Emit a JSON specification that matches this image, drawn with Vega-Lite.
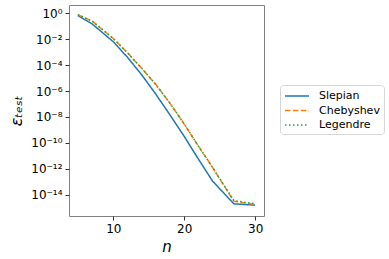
{
  "$schema": "https://vega.github.io/schema/vega-lite/v6.json",
  "autosize": {"type": "none"},
  "padding": {"left": 69, "top": 5, "right": 125, "bottom": 43},
  "width": 195,
  "height": 211,
  "background": "white",
  "config": {
    "view": {"stroke": "#808080", "strokeWidth": 1},
    "font": "DejaVu Sans",
    "axis": {"grid": false, "domain": false, "tickColor": "#333", "tickSize": 4, "labelColor": "#000", "labelFontSize": 12, "labelFont": "DejaVu Sans", "titleFont": "DejaVu Sans", "titleFontWeight": "normal", "titleColor": "#000"},
    "legend": {"orient": "none", "legendX": 211, "legendY": 80, "title": null, "symbolType": "M-1,0H3", "symbolSize": 144, "symbolStrokeWidth": 1.5, "symbolFillColor": "transparent", "labelFontSize": 11, "labelFont": "DejaVu Sans", "labelColor": "#000", "labelOffset": 21, "strokeColor": "#d6d6d6", "fillColor": "white", "padding": 4, "cornerRadius": 3, "rowPadding": 2.5}
  },
  "data": {"values": [
    {"method": "Slepian", "n": 5, "eps": 0.661},
    {"method": "Slepian", "n": 7, "eps": 0.151},
    {"method": "Slepian", "n": 10, "eps": 0.00631},
    {"method": "Slepian", "n": 12, "eps": 0.000398},
    {"method": "Slepian", "n": 14, "eps": 1.78e-5},
    {"method": "Slepian", "n": 16, "eps": 5.62e-7},
    {"method": "Slepian", "n": 18, "eps": 1.41e-8},
    {"method": "Slepian", "n": 20, "eps": 3.16e-10},
    {"method": "Slepian", "n": 22, "eps": 5.62e-12},
    {"method": "Slepian", "n": 24, "eps": 1.12e-13},
    {"method": "Slepian", "n": 27, "eps": 2.0e-15},
    {"method": "Slepian", "n": 30, "eps": 1.58e-15},
    {"method": "Chebyshev", "n": 5, "eps": 0.759},
    {"method": "Chebyshev", "n": 7, "eps": 0.251},
    {"method": "Chebyshev", "n": 10, "eps": 0.0112},
    {"method": "Chebyshev", "n": 12, "eps": 0.000891},
    {"method": "Chebyshev", "n": 14, "eps": 5.62e-5},
    {"method": "Chebyshev", "n": 16, "eps": 3.16e-6},
    {"method": "Chebyshev", "n": 18, "eps": 1.12e-7},
    {"method": "Chebyshev", "n": 20, "eps": 2.82e-9},
    {"method": "Chebyshev", "n": 22, "eps": 5.62e-11},
    {"method": "Chebyshev", "n": 24, "eps": 1.26e-12},
    {"method": "Chebyshev", "n": 27, "eps": 3.16e-15},
    {"method": "Chebyshev", "n": 30, "eps": 1.78e-15},
    {"method": "Legendre", "n": 5, "eps": 0.759},
    {"method": "Legendre", "n": 7, "eps": 0.251},
    {"method": "Legendre", "n": 10, "eps": 0.0112},
    {"method": "Legendre", "n": 12, "eps": 0.000891},
    {"method": "Legendre", "n": 14, "eps": 5.62e-5},
    {"method": "Legendre", "n": 16, "eps": 3.16e-6},
    {"method": "Legendre", "n": 18, "eps": 1.12e-7},
    {"method": "Legendre", "n": 20, "eps": 2.82e-9},
    {"method": "Legendre", "n": 22, "eps": 5.62e-11},
    {"method": "Legendre", "n": 24, "eps": 1.26e-12},
    {"method": "Legendre", "n": 27, "eps": 3.55e-15},
    {"method": "Legendre", "n": 30, "eps": 2.0e-15}
  ]},
  "mark": {"type": "line", "strokeWidth": 1.5, "clip": true},
  "encoding": {
    "x": {"field": "n", "type": "quantitative",
      "scale": {"domain": [3.75, 31.25], "nice": false, "zero": false},
      "axis": {"values": [10, 20, 30], "title": "n", "titleFontStyle": "italic", "titleFontSize": 15, "titlePadding": 5, "labelPadding": 3}},
    "y": {"field": "eps", "type": "quantitative",
      "scale": {"type": "log", "domain": [2.3e-16, 4.3], "nice": false},
      "axis": {"values": [1, 1e-2, 1e-4, 1e-6, 1e-8, 1e-10, 1e-12, 1e-14],
        "labelExpr": "round(log(datum.value)/LN10) == 0 ? '10⁰' : round(log(datum.value)/LN10) == -2 ? '10⁻²' : round(log(datum.value)/LN10) == -4 ? '10⁻⁴' : round(log(datum.value)/LN10) == -6 ? '10⁻⁶' : round(log(datum.value)/LN10) == -8 ? '10⁻⁸' : round(log(datum.value)/LN10) == -10 ? '10⁻¹⁰' : round(log(datum.value)/LN10) == -12 ? '10⁻¹²' : '10⁻¹⁴'",
        "title": "εₜₑₛₜ", "titleFontStyle": "italic", "titleFontSize": 16, "titlePadding": 6, "labelPadding": 3}},
    "color": {"field": "method", "type": "nominal",
      "scale": {"domain": ["Slepian", "Chebyshev", "Legendre"], "range": ["#1f77b4", "#ff7f0e", "#2ca02c"]}},
    "strokeDash": {"field": "method", "type": "nominal",
      "scale": {"domain": ["Slepian", "Chebyshev", "Legendre"], "range": [[1, 0], [5.5, 2.4], [1.5, 2.5]]}}
  }
}
